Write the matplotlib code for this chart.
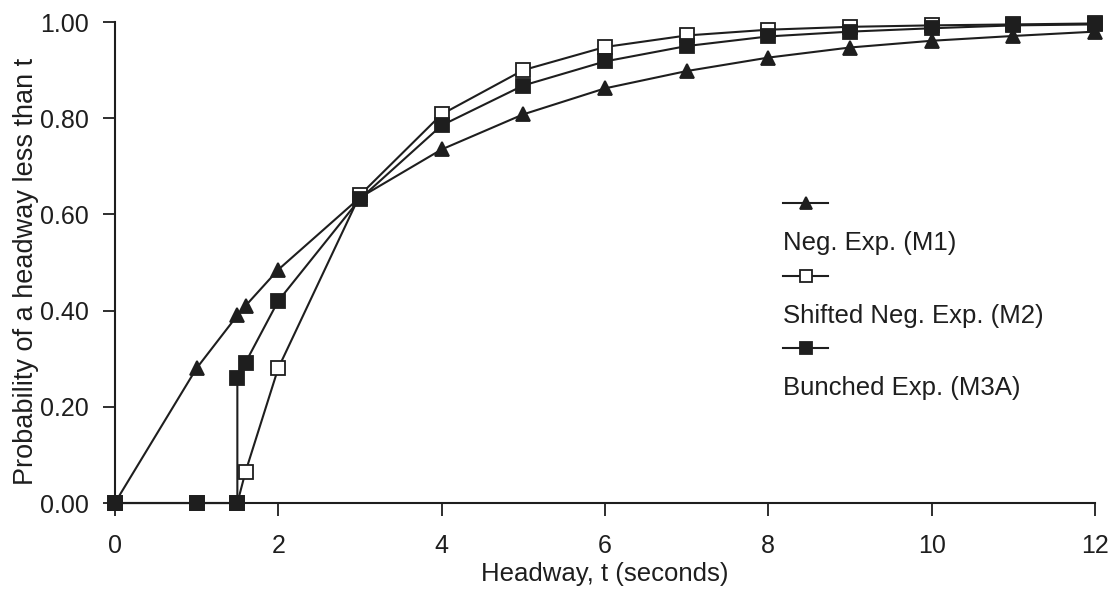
import matplotlib
matplotlib.use("Agg")
import matplotlib.pyplot as plt

plt.rcParams['font.family'] = ['Liberation Sans', 'DejaVu Sans']

# headway t (seconds)
t_m1 = [0, 1, 1.5, 1.6, 2, 3, 4, 5, 6, 7, 8, 9, 10, 11, 12]
p_m1 = [0, 0.28, 0.39, 0.41, 0.485, 0.635, 0.735, 0.808, 0.862, 0.898, 0.926, 0.947, 0.961, 0.971, 0.98]

t_m2 = [0, 1, 1.5, 1.6, 2, 3, 4, 5, 6, 7, 8, 9, 10, 11, 12]
p_m2 = [0, 0, 0, 0.065, 0.28, 0.64, 0.808, 0.90, 0.948, 0.972, 0.984, 0.99, 0.993, 0.995, 0.997]

t_m3 = [0, 1, 1.5, 1.5, 1.6, 2, 3, 4, 5, 6, 7, 8, 9, 10, 11, 12]
p_m3 = [0, 0, 0, 0.26, 0.292, 0.42, 0.632, 0.785, 0.868, 0.918, 0.95, 0.97, 0.98, 0.987, 0.993, 0.995]

labels = ['Neg. Exp. (M1)', 'Shifted Neg. Exp. (M2)', 'Bunched Exp. (M3A)']
xticks = [0, 2, 4, 6, 8, 10, 12]
yticks = [0, 0.2, 0.4, 0.6, 0.8, 1.0]

ink = '#1e1e1e'
fig = plt.figure(figsize=(11.15, 5.95), dpi=100)
ax = fig.add_axes([0.103, 0.1546, 0.879, 0.8084])

styles = [dict(marker='^', mfc=ink), dict(marker='s', mfc='white'), dict(marker='s', mfc=ink)]
ax.plot(t_m1, p_m1, color=ink, lw=1.5, ms=10, mec=ink, mew=1.3, clip_on=False, zorder=3, **styles[0])
ax.plot(t_m2, p_m2, color=ink, lw=1.5, ms=10, mec=ink, mew=1.3, clip_on=False, zorder=3, **styles[1])
ax.plot(t_m3, p_m3, color=ink, lw=1.5, ms=10, mec=ink, mew=1.3, clip_on=False, zorder=4, **styles[2])

ax.set_xlim(0, 12)
ax.set_ylim(0, 1)
ax.set_xticks(xticks)
ax.set_yticks(yticks)
ax.set_yticklabels(['%.2f' % v for v in yticks])
ax.tick_params(direction='out', length=9, width=1.3, colors=ink, labelsize=18)
ax.tick_params(axis='x', pad=13)
ax.tick_params(axis='y', pad=10)
for s in ['top', 'right']:
    ax.spines[s].set_visible(False)
for s in ['left', 'bottom']:
    ax.spines[s].set_linewidth(1.5)
    ax.spines[s].set_color(ink)

ax.set_xlabel('Headway, t (seconds)', fontsize=18.5, color=ink, va='center')
ax.set_ylabel('Probability of a headway less than t', fontsize=19.5, color=ink, va='center')
ax.xaxis.set_label_coords(0.5, -0.148)
ax.yaxis.set_label_coords(-0.091, 0.481)

# legend: sample line above each label
leg_y = [0.623, 0.472, 0.322]
for st, lab, yy in zip(styles, labels, leg_y):
    ax.plot([0.682, 0.728], [yy, yy], transform=ax.transAxes, color=ink, lw=1.5, clip_on=False)
    ax.plot([0.705], [yy], transform=ax.transAxes, color=ink, ms=9, mec=ink, mew=1.3, ls='none',
            clip_on=False, **st)
    ax.text(0.682, yy - 0.083, lab, transform=ax.transAxes, fontsize=18.5, color=ink,
            va='center', ha='left')

fig.savefig('out.png', dpi=100)
